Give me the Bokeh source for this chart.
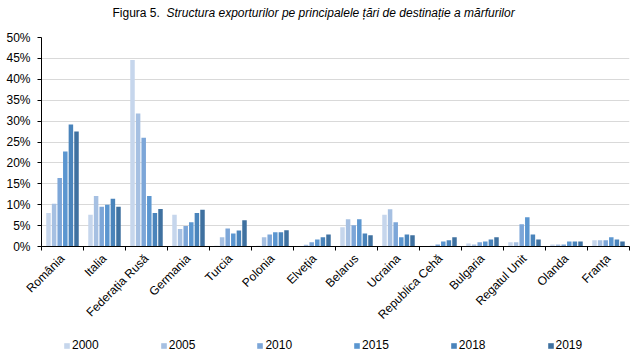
import math
import numpy as np
from bokeh.plotting import figure
from bokeh.layouts import column
from bokeh.models import (ColumnDataSource, FixedTicker, PrintfTickFormatter, Range1d,
                          Legend, LegendItem, Label)
from bokeh.embed import file_html
from bokeh.resources import INLINE

countries = ["România", "Italia", "Federația Rusă", "Germania", "Turcia", "Polonia",
             "Elveția", "Belarus", "Ucraina", "Republica Cehă", "Bulgaria",
             "Regatul Unit", "Olanda", "Franța"]
years = ["2000", "2005", "2010", "2015", "2018", "2019"]

v2000 = [8.0, 7.6, 44.6, 7.6, 0.2, 0.2, 0.0, 4.6, 7.6, 0.1, 0.7, 1.0, 0.5, 1.5]
v2005 = [10.2, 12.1, 31.8, 4.2, 2.2, 2.2, 0.4, 6.5, 8.9, 0.2, 0.5, 1.0, 0.5, 1.5]
v2010 = [16.4, 9.5, 26.0, 4.9, 4.3, 2.9, 1.0, 5.1, 5.8, 0.5, 1.0, 5.3, 0.5, 1.5]
v2015 = [22.7, 10.0, 12.1, 5.8, 3.1, 3.4, 1.7, 6.5, 2.2, 1.2, 1.2, 7.0, 1.2, 2.2]
v2018 = [29.2, 11.4, 8.0, 8.0, 3.8, 3.4, 2.2, 3.1, 2.9, 1.5, 1.7, 2.9, 1.2, 1.7]
v2019 = [27.5, 9.5, 9.0, 8.8, 6.3, 3.9, 2.9, 2.7, 2.7, 2.2, 2.2, 1.7, 1.2, 1.2]
series = [v2000, v2005, v2010, v2015, v2018, v2019]

colors = ["#c6d6ec", "#a6c0e2", "#7ca6d8", "#5b96d0", "#4a84bb", "#3f71a0"]
y_ticks = [0, 5, 10, 15, 20, 25, 30, 35, 40, 45, 50]

FONT = "Liberation Sans"
n = len(countries)


def strip(h):
    s = figure(width=635, height=h, output_backend="svg", toolbar_location=None,
               title=None, x_range=Range1d(0, 1), y_range=Range1d(0, 1),
               min_border=0)
    s.outline_line_color = None
    s.axis.visible = False
    s.grid.visible = False
    return s


# title strip
pt = strip(24)
t1 = Label(x=71, y=12, x_units="screen", y_units="screen", text="Figura 5.",
           text_font=FONT, text_font_size="12px", text_baseline="middle",
           text_color="black")
t2 = Label(x=125, y=12, x_units="screen", y_units="screen",
           text="Structura exporturilor pe principalele țări de destinație a mărfurilor",
           text_font=FONT, text_font_size="12px", text_font_style="italic",
           text_baseline="middle", text_color="black")
pt.add_layout(t1)
pt.add_layout(t2)

# main chart
p = figure(width=635, height=310, output_backend="svg", toolbar_location=None,
           title=None, x_range=Range1d(0, n), y_range=Range1d(0, 50),
           min_border_left=41, min_border_right=6, min_border_top=13,
           min_border_bottom=88)
p.outline_line_color = None
p.background_fill_color = "white"
p.border_fill_color = "white"

step = 0.1333
bw = 0.107
for k, (yr, vals, c) in enumerate(zip(years, series, colors)):
    xs = np.arange(n) + 0.5 + (k - 2.5) * step
    src = ColumnDataSource(dict(x=xs, top=vals))
    p.vbar(x="x", top="top", bottom=0, width=bw, source=src,
           fill_color=c, line_color=None)

xa = p.xaxis[0]
centers = [float(i + 0.5) for i in range(n)]
xa.ticker = FixedTicker(ticks=centers, minor_ticks=list(range(n + 1)))
xa.major_label_overrides = {c: name for c, name in zip(centers, countries)}
xa.major_tick_line_color = None
xa.major_tick_out = 0
xa.minor_tick_out = 4
xa.minor_tick_in = 0
xa.minor_tick_line_color = "black"
xa.axis_line_color = "black"
xa.major_label_orientation = math.pi / 4
xa.major_label_standoff = 6
xa.major_label_text_font = FONT
xa.major_label_text_font_size = "12px"
xa.major_label_text_color = "black"

ya = p.yaxis[0]
ya.ticker = FixedTicker(ticks=y_ticks)
ya.formatter = PrintfTickFormatter(format="%d%%")
ya.major_tick_out = 4
ya.major_tick_in = 0
ya.minor_tick_line_color = None
ya.axis_line_color = "black"
ya.major_label_standoff = 7
ya.major_label_text_font = FONT
ya.major_label_text_font_size = "12px"
ya.major_label_text_color = "black"

p.xgrid.visible = False
p.ygrid.ticker = FixedTicker(ticks=y_ticks)
p.ygrid.grid_line_color = "#d9d9d9"

# legend strip
pl = strip(22)
items = []
for yr, c in zip(years, colors):
    r = pl.vbar(x=[5], top=[0], width=0.1, fill_color=c, line_color=None)
    items.append(LegendItem(label=yr, renderers=[r]))
legend = Legend(items=items, orientation="horizontal", location=(22, 4),
                glyph_width=7, glyph_height=7, label_height=7, label_standoff=2,
                spacing=61, padding=0, margin=0, border_line_color=None,
                background_fill_alpha=0, label_text_font=FONT,
                label_text_font_size="12px", label_text_color="black")
pl.add_layout(legend)

layout = column(pt, p, pl, spacing=0)
open("out.html", "w").write(file_html(layout, INLINE))
